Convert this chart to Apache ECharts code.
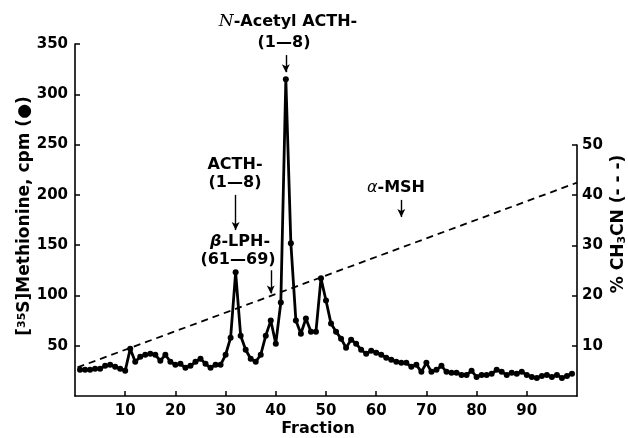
<!DOCTYPE html>
<html>
<head>
<meta charset="utf-8">
<script src="https://cdn.jsdelivr.net/npm/echarts@6/dist/echarts.min.js"></script>
<style>
  html, body { margin: 0; padding: 0; background: #fff; }
  #main { width: 628px; height: 438px; }
</style>
</head>
<body>
<div id="main"></div>
<script>
// [35S]Methionine cpm, one value per fraction (fraction 1..99)
const methionine = [
  26, 26, 26, 27, 27, 30, 31, 29, 27, 25,
  47, 34, 39, 41, 42, 41, 35, 41, 34, 31,
  32, 28, 30, 34, 37, 32, 28, 31, 31, 41,
  58, 123, 60, 46, 37, 34, 41, 60, 75, 52,
  93, 315, 152, 75, 62, 77, 64, 64, 117, 95,
  72, 64, 57, 48, 56, 52, 46, 42, 45, 43,
  41, 38, 36, 34, 33, 33, 29, 31, 24, 33,
  24, 26, 30, 24, 23, 23, 21, 21, 25, 19,
  21, 21, 22, 26, 24, 21, 23, 22, 24, 21,
  19, 18, 20, 21, 19, 21, 18, 20, 22
];
const fractions = methionine.map((v, i) => i + 1);

// % CH3CN gradient (start, end)
const gradientFraction = [0.5, 100];
const gradientPercent = [5.7, 42.5];

const FONT = 'DejaVu Sans';

// annotation arrows in data coordinates: fraction, cpm from, cpm to
const arrows = [
  [42, 339, 322],
  [32, 200, 165],
  [39, 125, 102],
  [65, 195, 178]
];

const axisStyle = { onZero: false, lineStyle: { color: '#000', width: 1.6 } };
const labelStyle = { color: '#000', fontFamily: FONT, fontWeight: 'bold', fontSize: 15 };

function txt(x, y, text, extra) {
  return {
    type: 'text', x: x, y: y,
    style: Object.assign({
      text: text, fill: '#000', fontFamily: FONT, fontWeight: 'bold', fontSize: 16,
      align: 'center', verticalAlign: 'middle'
    }, extra || {})
  };
}

const option = {
  animation: false,
  backgroundColor: '#fff',
  grid: [
    { left: 75, right: 51, top: 44, bottom: 42 },
    { left: 75, right: 51, top: 145, bottom: 42 }
  ],
  xAxis: [{
    type: 'value', gridIndex: 0, min: 0, max: 100, interval: 10,
    axisLine: axisStyle,
    axisTick: { inside: true, length: 5, lineStyle: { color: '#000', width: 1.5 } },
    axisLabel: Object.assign({ margin: 8, showMinLabel: false, showMaxLabel: false }, labelStyle),
    splitLine: { show: false }
  }, {
    type: 'value', gridIndex: 1, min: 0, max: 100, show: false
  }],
  yAxis: [{
    type: 'value', gridIndex: 0, position: 'left', min: 0, max: 350, interval: 50,
    axisLine: Object.assign({ show: true }, axisStyle),
    axisTick: { show: true, inside: true, length: 5, lineStyle: { color: '#000', width: 1.5 } },
    axisLabel: Object.assign({ margin: 7, showMinLabel: false }, labelStyle),
    splitLine: { show: false }
  }, {
    type: 'value', gridIndex: 1, position: 'right', min: 0, max: 50, interval: 10,
    axisLine: Object.assign({ show: true }, axisStyle),
    axisTick: { show: true, inside: true, length: 5, lineStyle: { color: '#000', width: 1.5 } },
    axisLabel: Object.assign({ margin: 5, showMinLabel: false }, labelStyle),
    splitLine: { show: false }
  }],
  series: [{
    name: 'methionine',
    type: 'line',
    xAxisIndex: 0, yAxisIndex: 0,
    data: fractions.map((f, i) => [f, methionine[i]]),
    symbol: 'circle',
    symbolSize: 6,
    lineStyle: { color: '#000', width: 2.8 },
    itemStyle: { color: '#000' },
    z: 3,
    markLine: {
      silent: true,
      symbol: ['none', 'arrow'],
      symbolSize: [6, 8],
      label: { show: false },
      lineStyle: { color: '#000', width: 1.4, type: 'solid' },
      data: arrows.map(a => [{ coord: [a[0], a[1]] }, { coord: [a[0], a[2]] }])
    }
  }, {
    name: 'CH3CN',
    type: 'line',
    xAxisIndex: 1, yAxisIndex: 1,
    data: gradientFraction.map((f, i) => [f, gradientPercent[i]]),
    symbol: 'none',
    lineStyle: { color: '#000', width: 1.8, type: [7, 5] },
    z: 2
  }],
  graphic: [
    txt(288, 22, '{it|N}-Acetyl ACTH-', { rich: { it: { fontFamily: 'DejaVu Serif', fontStyle: 'italic', fontSize: 17, fill: '#000' } } }),
    txt(284, 43, '(1—8)'),
    txt(235, 165, 'ACTH-'),
    txt(235, 183, '(1—8)'),
    txt(240, 242, '{it|β}-LPH-', { rich: { it: { fontFamily: FONT, fontStyle: 'italic', fontWeight: 'bold', fontSize: 16, fill: '#000' } } }),
    txt(238, 260, '(61—69)'),
    txt(396, 188, '{it|α}-MSH', { rich: { it: { fontFamily: FONT, fontStyle: 'italic', fontSize: 16, fill: '#000' } } }),
    txt(318, 429, 'Fraction'),
    Object.assign(txt(25, 216, '[{sup|35}S]Methionine, cpm (●)', {
      fontSize: 17,
      rich: {
        sup: { fontFamily: FONT, fontWeight: 'bold', fontSize: 11, verticalAlign: 'top', fill: '#000' }
      }
    }), { rotation: Math.PI / 2 }),
    Object.assign(txt(619, 224, '% CH{sub|3}CN (- - -)', {
      fontSize: 17,
      rich: { sub: { fontFamily: FONT, fontWeight: 'bold', fontSize: 11, verticalAlign: 'bottom', fill: '#000' } }
    }), { rotation: Math.PI / 2 })
  ]
};

const chart = echarts.init(document.getElementById('main'));
chart.setOption(option);
</script>
</body>
</html>
